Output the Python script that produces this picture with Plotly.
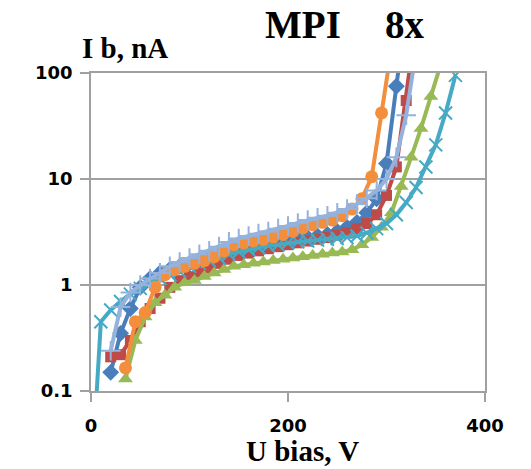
import plotly.graph_objects as go

# ---- data ----
volts_blue = [20, 30, 40, 50, 60, 70, 80, 90, 100, 110, 120, 130, 140, 150, 160, 170, 180, 190, 200,
              210, 220, 230, 240, 250, 260, 270, 280, 290, 300, 310, 320]
cur_blue = [0.15, 0.35, 0.6, 0.95, 1.15, 1.3, 1.4, 1.5, 1.6, 1.7, 1.8, 1.9, 2.0, 2.1, 2.2, 2.3, 2.4, 2.5, 2.6,
            2.7, 2.8, 2.9, 3.0, 3.2, 3.5, 3.9, 4.8, 6.5, 14, 75, 400]

volts_red = [20, 30, 40, 50, 60, 70, 80, 90, 100, 110, 120, 130, 140, 150, 160, 170, 180, 190, 200,
             210, 220, 230, 240, 250, 260, 270, 280, 290, 300, 310, 320, 330]
cur_red = [0.21, 0.22, 0.3, 0.45, 0.6, 0.75, 0.95, 1.1, 1.2, 1.3, 1.45, 1.6, 1.75, 1.9, 2.0, 2.1, 2.2, 2.3, 2.4,
           2.5, 2.6, 2.7, 2.8, 2.95, 3.1, 3.4, 3.8, 4.6, 7.0, 13, 55, 300]

volts_green = [35, 45, 55, 65, 75, 85, 95, 105, 115, 125, 135, 145, 155, 165, 175, 185, 195, 205, 215,
               225, 235, 245, 255, 265, 275, 285, 295, 305, 315, 325, 335, 345, 355]
cur_green = [0.13, 0.3, 0.5, 0.68, 0.8, 0.95, 1.05, 1.1, 1.2, 1.3, 1.4, 1.5, 1.55, 1.6, 1.65, 1.7, 1.75, 1.8, 1.85,
             1.9, 1.95, 2.0, 2.05, 2.15, 2.4, 2.8, 3.5, 4.8, 8.5, 16, 30, 60, 120]

volts_teal = [0, 10, 20, 30, 40, 50, 60, 70, 80, 90, 100, 110, 120, 130, 140, 150, 160, 170, 180, 190,
              200, 210, 220, 230, 240, 250, 260, 270, 280, 290, 300, 310, 320, 330, 340, 350, 360, 370]
cur_teal = [0.012, 0.45, 0.58, 0.7, 0.82, 0.93, 1.05, 1.15, 1.25, 1.35, 1.5, 1.6, 1.7, 1.8, 1.95, 2.05, 2.15,
            2.25, 2.35, 2.4, 2.5, 2.55, 2.6, 2.65, 2.7, 2.75, 2.8, 2.9, 3.1, 3.4, 3.8, 4.6, 6.0, 8.3, 13, 21, 42, 95]

volts_orange = [35, 45, 55, 65, 75, 85, 95, 105, 115, 125, 135, 145, 155, 165, 175, 185, 195, 205, 215,
                225, 235, 245, 255, 265, 275, 285, 295, 305]
cur_orange = [0.165, 0.45, 0.55, 0.95, 1.25, 1.4, 1.5, 1.6, 1.7, 1.85, 2.1, 2.4, 2.5, 2.6, 2.7, 2.85, 3.0, 3.2,
              3.45, 3.7, 3.9, 4.1, 4.5, 5.2, 6.5, 10.5, 42, 170]

volts_lblue = [20, 30, 40, 50, 60, 70, 80, 90, 100, 110, 120, 130, 140, 150, 160, 170, 180, 190, 200,
               210, 220, 230, 240, 250, 260, 270, 280, 290, 300, 310, 320, 330]
cur_lblue = [0.24, 0.62, 0.85, 1.0, 1.15, 1.3, 1.5, 1.65, 1.8, 1.95, 2.1, 2.3, 2.55, 2.75, 2.9, 3.05, 3.2, 3.4,
             3.6, 3.85, 4.1, 4.3, 4.5, 4.8, 5.2, 5.8, 6.6, 7.8, 10, 16, 40, 160]

x_ticks = [0, 200, 400]
y_ticks = [0.1, 1, 10, 100]
y_tick_labels = ["0.1", "1", "10", "100"]

series = [
    (volts_blue, cur_blue, "#4A7EBB", "diamond", 13, None),
    (volts_red, cur_red, "#BE4B48", "square", 11, None),
    (volts_green, cur_green, "#98B954", "triangle-up", 13, None),
    (volts_teal, cur_teal, "#46AAC5", "x-thin-open", 13, 2),
    (volts_orange, cur_orange, "#F28E3C", "circle", 13, None),
    (volts_lblue, cur_lblue, "#94B2DC", "cross-thin-open", 14, 2),
]

fig = go.Figure()
for xs, ys, col, sym, sz, lw in series:
    marker = dict(symbol=sym, size=sz, color=col)
    if lw:
        marker["line"] = dict(color=col, width=lw)
    fig.add_trace(go.Scatter(x=xs, y=ys, mode="lines+markers",
                             line=dict(color=col, width=4), marker=marker,
                             showlegend=False))

axis_font = dict(family="DejaVu Sans", size=18, color="black", weight="bold")

fig.update_xaxes(range=[0, 400], tickvals=x_ticks, ticks="outside", ticklen=9, tickwidth=1.5,
                 tickcolor="#A0A0A0", showline=True, linecolor="#A0A0A0", linewidth=1.5,
                 mirror=True, showgrid=False, zeroline=False, tickfont=axis_font,
                 ticklabelstandoff=9)
fig.update_yaxes(type="log", range=[-1, 2], tickvals=y_ticks, ticktext=y_tick_labels,
                 ticks="outside", ticklen=9, tickwidth=1.5, tickcolor="#A0A0A0",
                 showline=True, linecolor="#A0A0A0", linewidth=1.5, mirror=True,
                 showgrid=True, gridcolor="#A0A0A0", gridwidth=1.5, zeroline=False,
                 tickfont=axis_font, ticklabelstandoff=4)

serif = "Liberation Serif"
fig.add_annotation(text="MPI", x=0.538, y=1.151, xref="paper", yref="paper",
                   showarrow=False, xanchor="center", yanchor="middle",
                   font=dict(family=serif, size=39, color="black", weight="bold"))
fig.add_annotation(text="8x", x=0.797, y=1.151, xref="paper", yref="paper",
                   showarrow=False, xanchor="center", yanchor="middle",
                   font=dict(family=serif, size=39, color="black", weight="bold"))
fig.add_annotation(text="I b, nA", x=-0.028, y=1.079, xref="paper", yref="paper",
                   showarrow=False, xanchor="left", yanchor="middle",
                   font=dict(family=serif, size=29, color="black", weight="bold"))
fig.add_annotation(text="U bias, V", x=0.538, y=-0.19, xref="paper", yref="paper",
                   showarrow=False, xanchor="center", yanchor="middle",
                   font=dict(family=serif, size=29, color="black", weight="bold"))

fig.update_layout(width=531, height=469, margin=dict(l=91, r=46, t=73, b=78),
                  paper_bgcolor="white", plot_bgcolor="white")

fig.write_html("out.html")
